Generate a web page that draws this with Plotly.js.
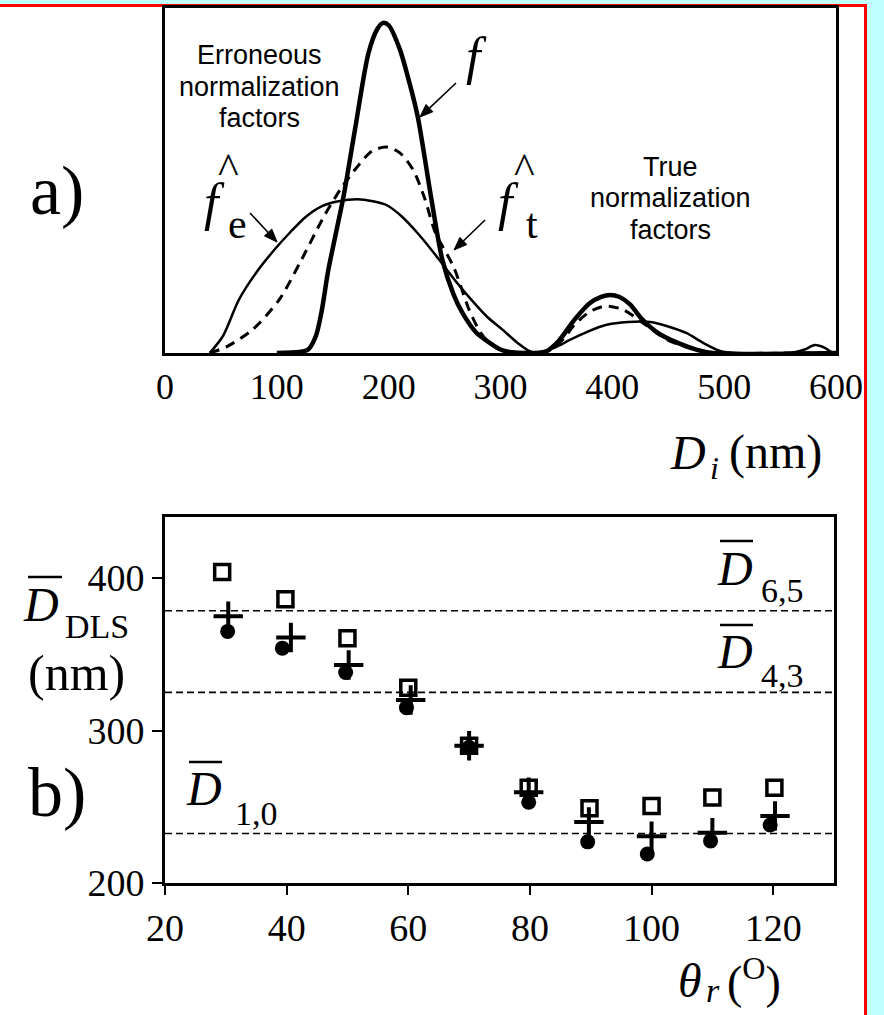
<!DOCTYPE html>
<html><head><meta charset="utf-8">
<script src="https://cdn.plot.ly/plotly-3.0.1.min.js"></script>
<style>html,body{margin:0;padding:0;background:#c0ffff;overflow:hidden}#chart{width:884px;height:1015px}</style>
</head><body><div id="chart"></div>
<script>
// ---------- panel a) : size distributions ----------
const fD    = [100,120,128,135,140,146,153,160,170,182,190,195,200,210,218,226,238,248,258,266,278,290,300,310,330,340,352,366,380,390,398,406,416,426,440,458,475,490,600];
const fVal  = [0,0.003,0.01,0.05,0.12,0.24,0.35,0.46,0.65,0.87,0.94,0.957,0.95,0.88,0.79,0.685,0.45,0.27,0.17,0.116,0.06,0.03,0.01,0.002,0,0.003,0.035,0.096,0.145,0.163,0.168,0.163,0.14,0.1,0.06,0.03,0.01,0,0];
const ftD   = [40,55,78,102,122,142,158,172,185,198,210,222,232,242,258,272,282,290,306,330,345,356,366,380,394,410,430,448,466,490,560,600];
const ftVal = [0,0.018,0.067,0.154,0.27,0.395,0.48,0.54,0.585,0.597,0.58,0.53,0.45,0.347,0.25,0.125,0.06,0.03,0.003,0,0.01,0.04,0.081,0.12,0.136,0.125,0.081,0.04,0.018,0,0,0];
const feD   = [40,52,66,82,98,112,126,140,154,172,186,198,212,226,238,250,262,274,288,302,315,328,348,362,378,394,414,434,450,466,482,497,510,560,572,581,590,597];
const feVal = [0,0.05,0.154,0.235,0.3,0.35,0.395,0.425,0.439,0.446,0.44,0.429,0.395,0.347,0.3,0.25,0.2,0.154,0.105,0.067,0.03,0.003,0.015,0.038,0.062,0.081,0.09,0.09,0.077,0.058,0.028,0.005,0,0,0.01,0.023,0.015,0];
const xTicksA = [0,100,200,300,400,500,600];

// ---------- panel b) : mean diameters vs angle ----------
const sqAngle  = [29.4,39.8,50,60,70,79.8,89.8,100,110,120.2];
const sqD      = [404,386,360.5,328,290,262.5,249,250.5,256,262.5];
const plAngle  = [30.4,40.7,50.2,60.4,70,79.8,89.7,100,110,120.3];
const plD      = [375,361,343,320,290,259.5,240,230.7,233,244];
const ciAngle  = [30.3,39.3,49.7,59.7,70,79.8,89.5,99.3,109.7,119.5];
const ciD      = [365,354,338,315,289,253,227,219,227.6,238];
const refNames = ['6,5','4,3','1,0'];
const refD     = [378.5,325,232.5];
const xTicksB  = [20,40,60,80,100,120];
const yTicksB  = [200,300,400];

const W=884,H=1015;
const PX=x=>x/W, PY=y=>1-y/H;
const SERIF='Liberation Serif', SANS='Liberation Sans';

const traces=[
 {x:feD,y:feVal,xaxis:'x',yaxis:'y',mode:'lines',line:{color:'black',width:2.5,shape:'spline',smoothing:0.8},hoverinfo:'skip'},
 {x:ftD,y:ftVal,xaxis:'x',yaxis:'y',mode:'lines',line:{color:'black',width:3,dash:'10px,7px',shape:'spline',smoothing:0.8},hoverinfo:'skip'},
 {x:fD,y:fVal,xaxis:'x',yaxis:'y',mode:'lines',line:{color:'black',width:4.5,shape:'spline',smoothing:0.8},hoverinfo:'skip'}
];
refD.forEach(v=>traces.push({x:[20,130],y:[v,v],xaxis:'x2',yaxis:'y2',mode:'lines',line:{color:'black',width:1.6,dash:'7px,4px'},hoverinfo:'skip'}));
traces.push({x:sqAngle,y:sqD,xaxis:'x2',yaxis:'y2',mode:'markers',marker:{symbol:'square-open',size:15,color:'black',line:{width:3.5,color:'black'}}});
traces.push({x:plAngle,y:plD,xaxis:'x2',yaxis:'y2',mode:'markers',marker:{symbol:'cross-thin-open',size:21,color:'black',line:{width:4,color:'black'}}});
traces.push({x:ciAngle,y:ciD,xaxis:'x2',yaxis:'y2',mode:'markers',marker:{symbol:'circle',size:15,color:'black',line:{width:0}}});

const ann=[], shapes=[];
function T(text,x,y,size,family,extra){ann.push(Object.assign({text:text,xref:'paper',yref:'paper',x:PX(x),y:PY(y),xanchor:'center',yanchor:'middle',showarrow:false,font:{family:family||SERIF,size:size,color:'black'}},extra||{}));}
function A(hx,hy,tx,ty){
  const dx=hx-tx, dy=hy-ty, L=Math.hypot(dx,dy), ux=dx/L, uy=dy/L, len=13, hw=5;
  const bx=hx-ux*len, by=hy-uy*len;
  shapes.push({type:'line',xref:'paper',yref:'paper',x0:PX(tx),y0:PY(ty),x1:PX(bx),y1:PY(by),line:{color:'black',width:1.6}});
  const p1=[bx-uy*hw,by+ux*hw], p2=[bx+uy*hw,by-ux*hw];
  shapes.push({type:'path',xref:'paper',yref:'paper',path:`M ${PX(hx)} ${PY(hy)} L ${PX(p1[0])} ${PY(p1[1])} L ${PX(p2[0])} ${PY(p2[1])} Z`,fillcolor:'black',line:{color:'black',width:1}});
}
function bar(x0,x1,y){shapes.push({type:'line',xref:'paper',yref:'paper',x0:PX(x0),x1:PX(x1),y0:PY(y),y1:PY(y),line:{color:'black',width:2.5}});}

// page decorations
shapes.push(
 {type:'rect',layer:'below',xref:'paper',yref:'paper',x0:0,x1:PX(865),y0:0,y1:PY(6),fillcolor:'white',line:{width:0}},
 {type:'rect',layer:'below',xref:'paper',yref:'paper',x0:0,x1:PX(867),y0:PY(7),y1:PY(4),fillcolor:'#ff0000',line:{width:0}},
 {type:'rect',layer:'below',xref:'paper',yref:'paper',x0:PX(864),x1:PX(867),y0:0,y1:PY(4),fillcolor:'#ff0000',line:{width:0}}
);

// panel a texts
T('Erroneous',259,55,27,SANS);
T('normalization',259,87,27,SANS);
T('factors',259,118,27,SANS);
T('True',670,167,27,SANS);
T('normalization',670,198,27,SANS);
T('factors',670,230,27,SANS);
T('<i>f</i>',476,57,52);
T('^',228,168,44);
T('<i>f</i>',214,202,52);
T('e',237,224,42);
T('^',524,168,44);
T('<i>f</i>',509,202,52);
T('t',532,224,42);
A(420,117,456,83);
A(277,242,250,213);
A(454,250,485,220);
T('a)',57,190,70);
T('<i>D</i>',688,452,48);
T('<i>i</i>',714,468,32);
T('(nm)',775,452,48);

// panel b texts
T('b)',57,792,70);
const refPos=[[735,568,541,782,590],[735,651,625,782,675],[204,788,762,256,813]];
refNames.forEach((n,i)=>{const p=refPos[i];T('<i>D</i>',p[0],p[1],48);bar(p[0]-15,p[0]+18,p[2]);T(n,p[3],p[4],34);});
T('<i>D</i>',41,604,48); bar(28,62,577); T('DLS',97,626,34);
T('(nm)',76,673,50);
T('<i>θ</i>',690,980,48);
T('<i>r</i>',713,990,34);
T('(<sup>O</sup>)',754,979,46);

const axBase={showline:true,mirror:true,linewidth:3,linecolor:'black',showgrid:false,zeroline:false,fixedrange:true};
const layout={
 width:W,height:H,margin:{l:0,r:0,t:0,b:0},paper_bgcolor:'#c0ffff',plot_bgcolor:'rgba(0,0,0,0)',showlegend:false,
 xaxis:Object.assign({},axBase,{domain:[PX(165),PX(836)],anchor:'y',range:[0,600],tickvals:xTicksA,ticks:'',tickfont:{family:SERIF,size:36,color:'black'}}),
 yaxis:Object.assign({},axBase,{domain:[PY(353),PY(8)],anchor:'x',range:[0,1],showticklabels:false,ticks:''}),
 xaxis2:Object.assign({},axBase,{domain:[PX(165),PX(834)],anchor:'y2',range:[20,130],tickvals:xTicksB,ticks:'outside',ticklen:9,tickwidth:2,tickcolor:'black',tickfont:{family:SERIF,size:38,color:'black'}}),
 yaxis2:Object.assign({},axBase,{domain:[PY(883),PY(517)],anchor:'x2',range:[200,440],tickvals:yTicksB,ticks:'outside',ticklen:10,tickwidth:2,tickcolor:'black',tickfont:{family:SERIF,size:38,color:'black'}}),
 annotations:ann,shapes:shapes
};
Plotly.newPlot('chart',traces,layout,{displayModeBar:false,staticPlot:true});
</script></body></html>
